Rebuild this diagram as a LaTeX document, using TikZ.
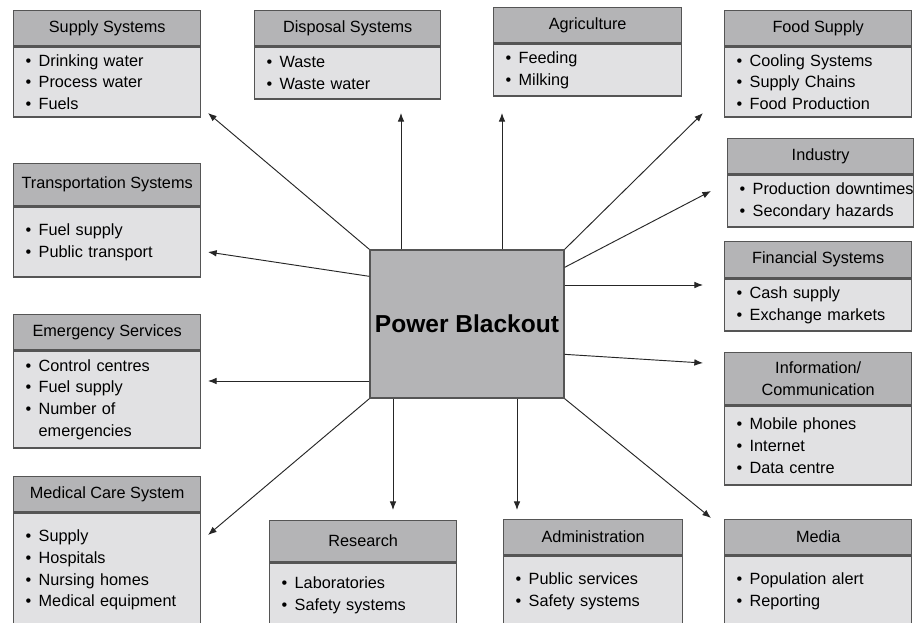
\documentclass[tikz,border=0pt]{standalone}
\usepackage{fontspec}
\setmainfont{Liberation Sans}
\usetikzlibrary{arrows.meta,calc}
\definecolor{headgray}{RGB}{180,180,182}
\definecolor{listgray}{RGB}{225,225,227}
\definecolor{edgegray}{RGB}{85,85,85}
\newcommand{\bul}{\makebox[9.75pt][l]{\textbullet}}

\begin{document}
\begin{tikzpicture}[x=0.75pt, y=-0.75pt,
                    font=\fontsize{12.2}{16.3}\selectfont,
                    head_node/.style={draw=edgegray, line width=1pt, fill=headgray, anchor=north west, align=center, inner sep=0pt, minimum width=#1*0.75pt},
                    list_node/.style={draw=edgegray, line width=1pt, fill=listgray, anchor=north west, inner xsep=9pt, inner ysep=0pt, minimum width=#1*0.75pt, text width=#1*0.75pt-18pt, align=left},
                    tall/.style={minimum height=#1*0.75pt},
                    hub_node/.style={draw=edgegray, line width=1pt, fill=headgray, minimum width=194*0.75pt, minimum height=148*0.75pt, font=\bfseries\fontsize{18.4}{22}\selectfont},
                    link/.style={-{Latex[length=6.5pt,width=5pt]}, line width=0.7pt, draw=black!85}
                ]
                    \path[use as bounding box, fill=white] (0,0) rectangle (920,622);
                    \clip (0,0) rectangle (920,622);

                    % left column
                    \node[head_node=187, tall=35] (supply) at (13,10) {Supply Systems};
                    \node[list_node=187, tall=70] (supply_list) at (supply.south west) {\bul Drinking water\\\bul Process water\\\bul Fuels};
                    \node[head_node=187, tall=42] (transport) at (13,163) {Transportation Systems};
                    \node[list_node=187, tall=70] (transport_list) at (transport.south west) {\bul Fuel supply\\\bul Public transport};
                    \node[head_node=187, tall=35] (emergency) at (13,314) {Emergency Services};
                    \node[list_node=187, tall=97] (emergency_list) at (emergency.south west) {\bul Control centres\\\bul Fuel supply\\\bul Number of\\\hspace*{9.75pt}emergencies};
                    \node[head_node=187, tall=35] (medical) at (13,476) {Medical Care System};
                    \node[list_node=187, tall=114] (medical_list) at (medical.south west) {\bul Supply\\\bul Hospitals\\\bul Nursing homes\\\bul Medical equipment};

                    % top and bottom rows
                    \node[head_node=186, tall=35] (disposal) at (254,10) {Disposal Systems};
                    \node[list_node=186, tall=52] (disposal_list) at (disposal.south west) {\bul Waste\\\bul Waste water};
                    \node[head_node=188, tall=35] (agriculture) at (493,7) {Agriculture};
                    \node[list_node=188, tall=52] (agriculture_list) at (agriculture.south west) {\bul Feeding\\\bul Milking};
                    \node[head_node=187, tall=41] (research) at (269,520) {Research};
                    \node[list_node=187, tall=64] (research_list) at (research.south west) {\bul Laboratories\\\bul Safety systems};
                    \node[head_node=179, tall=35] (admin) at (503,519) {Administration};
                    \node[list_node=179, tall=70] (admin_list) at (admin.south west) {\bul Public services\\\bul Safety systems};

                    % right column
                    \node[head_node=187, tall=35] (food) at (724,10) {Food Supply};
                    \node[list_node=187, tall=70] (food_list) at (food.south west) {\bul Cooling Systems\\\bul Supply Chains\\\bul Food Production};
                    \node[head_node=186, tall=35] (industry) at (727,138) {Industry};
                    \node[list_node=186, tall=52] (industry_list) at (industry.south west) {\bul \mbox{Production downtimes}\\\bul Secondary hazards};
                    \node[head_node=187, tall=36] (finance) at (724,241) {Financial Systems};
                    \node[list_node=187, tall=52] (finance_list) at (finance.south west) {\bul Cash supply\\\bul Exchange markets};
                    \node[head_node=187, tall=52] (info) at (724,352) {Information/\\Communication};
                    \node[list_node=187, tall=79] (info_list) at (info.south west) {\bul Mobile phones\\\bul Internet\\\bul Data centre};
                    \node[head_node=187, tall=35] (media) at (724,519) {Media};
                    \node[list_node=187, tall=70] (media_list) at (media.south west) {\bul Population alert\\\bul Reporting};

                    \node[hub_node] (blackout) at (467,324) {Power Blackout};

                    % arrow tips
                    \coordinate (supply_tip) at (208,113);
                    \coordinate (disposal_tip) at (401,113);
                    \coordinate (agriculture_tip) at (502,113);
                    \coordinate (food_tip) at (703,113);
                    \coordinate (industry_tip) at (711,191);
                    \coordinate (finance_tip) at (703,285);
                    \coordinate (info_tip) at (703,363);
                    \coordinate (media_tip) at (711,518);
                    \coordinate (admin_tip) at (517,510);
                    \coordinate (research_tip) at (393,510);
                    \coordinate (medical_tip) at (208,535);
                    \coordinate (emergency_tip) at (208,381);
                    \coordinate (transport_tip) at (208,252);

                    \draw[link] (blackout.north west) -- (supply_tip);
                    \draw[link] (blackout.north -| disposal_tip) -- (disposal_tip);
                    \draw[link] (blackout.north -| agriculture_tip) -- (agriculture_tip);
                    \draw[link] (blackout.north east) -- (food_tip);
                    \draw[link] ($(blackout.north east)+(0,18)$) -- (industry_tip);
                    \draw[link] (blackout.east |- finance_tip) -- (finance_tip);
                    \draw[link] ($(blackout.north east)+(0,105)$) -- (info_tip);
                    \draw[link] (blackout.south east) -- (media_tip);
                    \draw[link] (blackout.south -| admin_tip) -- (admin_tip);
                    \draw[link] (blackout.south -| research_tip) -- (research_tip);
                    \draw[link] (blackout.south west) -- (medical_tip);
                    \draw[link] (blackout.west |- emergency_tip) -- (emergency_tip);
                    \draw[link] ($(blackout.north west)+(0,27)$) -- (transport_tip);
                \end{tikzpicture}
\end{document}
